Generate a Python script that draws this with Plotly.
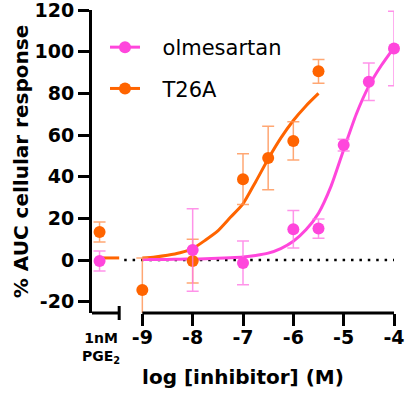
import plotly.graph_objects as go

# ---------------- data ----------------
# control (1 nM PGE2) shown on the left, broken part of the x axis
ctrl_label = "1nM<br>PGE<sub>2</sub>"
ctrl_pos = -9.85

# T26A
t26a_logc = [-9, -8, -7, -6.5, -6, -5.5]
t26a_mean = [-14.4, -0.5, 38.8, 49.0, 57.2, 90.6]
t26a_err = [15.4, 10.5, 12.2, 15.2, 9.2, 5.7]
t26a_ctrl_mean = 13.4
t26a_ctrl_err = 4.8

# olmesartan
olm_logc = [-8, -7, -6, -5.5, -5, -4.5, -4]
olm_mean = [4.8, -1.4, 14.8, 15.1, 55.2, 85.6, 101.6]
olm_err = [19.8, 10.5, 9.0, 4.6, 2.8, 9.0, 17.9]
olm_ctrl_mean = -0.5
olm_ctrl_err = 4.8

# fitted curves
t26a_fit_x = [-9.78, -9.46, None, -9, -8.75, -8.5, -8.25, -8, -7.75, -7.5, -7.25,
              -7, -6.75, -6.5, -6.25, -6, -5.75, -5.5]
t26a_fit_y = [1.0, 1.0, None, 1.0, 1.5, 2.3, 3.5, 5.5, 9.5, 14.0, 20.5,
              27.0, 37.5, 48.5, 58.5, 67.0, 74.0, 80.0]
olm_fit_x = [-9, -8.75, -8.5, -8.25, -8, -7.75, -7.5, -7.25, -7, -6.75, -6.5,
             -6.25, -6, -5.75, -5.5, -5.25, -5, -4.75, -4.5, -4.25, -4]
olm_fit_y = [0.3, 0.3, 0.3, 0.4, 0.5, 0.6, 0.8, 1.1, 1.5, 2.2, 3.3,
             5.5, 9.0, 14.5, 22.5, 35.5, 53.0, 70.0, 83.5, 93.5, 102.0]

x_ticks = [-9, -8, -7, -6, -5, -4]
x_ticktext = ["-9", "-8", "-7", "-6", "-5", "-4"]
y_ticks = [-20, 0, 20, 40, 60, 80, 100, 120]
y_ticktext = ["-20", "0", "20", "40", "60", "80", "100", "120"]

series_names = ["olmesartan", "T26A"]

# ---------------- styling ----------------
PINK = "#FF46DC"
PINK_ERR = "rgba(255,120,228,0.8)"
ORANGE = "#FF6400"
ORANGE_ERR = "rgba(255,145,80,0.8)"
FONT = "DejaVu Sans"

fig = go.Figure()

# fit curves
fig.add_trace(go.Scatter(x=t26a_fit_x, y=t26a_fit_y, mode="lines",
                         line=dict(color=ORANGE, width=3, shape="spline", smoothing=0.6),
                         showlegend=False, hoverinfo="skip", cliponaxis=False))
fig.add_trace(go.Scatter(x=olm_fit_x, y=olm_fit_y, mode="lines",
                         line=dict(color=PINK, width=3, shape="spline", smoothing=0.6),
                         showlegend=False, hoverinfo="skip", cliponaxis=False))

# data points
fig.add_trace(go.Scatter(x=[ctrl_pos] + t26a_logc, y=[t26a_ctrl_mean] + t26a_mean,
                         mode="markers", marker=dict(color=ORANGE, size=12),
                         error_y=dict(type="data", array=[t26a_ctrl_err] + t26a_err,
                                      color=ORANGE_ERR, thickness=1.5, width=6),
                         showlegend=False, cliponaxis=False))
fig.add_trace(go.Scatter(x=[ctrl_pos] + olm_logc, y=[olm_ctrl_mean] + olm_mean,
                         mode="markers", marker=dict(color=PINK, size=12),
                         error_y=dict(type="data", array=[olm_ctrl_err] + olm_err,
                                      color=PINK_ERR, thickness=1.5, width=6),
                         showlegend=False, cliponaxis=False))

# legend entries
for name, col in zip(series_names, [PINK, ORANGE]):
    fig.add_trace(go.Scatter(x=[None], y=[None], mode="lines+markers",
                             name="\u00a0\u00a0\u2009" + name, legendgroup=name,
                             line=dict(color=col, width=3),
                             marker=dict(color=col, size=12)))

shapes = [
    # dotted zero line
    dict(type="line", xref="x", yref="y", x0=-9.36, x1=-4, y0=0, y1=0,
         line=dict(color="black", width=2.5, dash="2.5px,5.9px"), layer="below"),
    # broken x axis: control segment
    dict(type="line", xref="x", yref="paper", x0=-10, x1=-9.46, y0=0, y1=0,
         line=dict(color="black", width=3)),
    dict(type="line", xref="x", yref="paper", x0=-9.46, x1=-9.46,
         y0=-7 / 303, y1=7 / 303, line=dict(color="black", width=3)),
    # broken x axis: dose segment
    dict(type="line", xref="x", yref="paper", x0=-9, x1=-4, y0=0, y1=0,
         line=dict(color="black", width=3)),
]

fig.update_layout(
    width=408, height=395,
    margin=dict(l=92, r=14, t=10, b=82, autoexpand=False),
    paper_bgcolor="white", plot_bgcolor="white",
    font=dict(family=FONT, color="black"),
    shapes=shapes,
    showlegend=True,
    legend=dict(x=(105 - 92) / 302, y=(313 - 27) / 303, xanchor="left", yanchor="top",
                font=dict(family=FONT, size=21, color="black"),
                bgcolor="rgba(0,0,0,0)", borderwidth=0,
                traceorder="grouped", tracegroupgap=11),
    annotations=[dict(text=ctrl_label, x=ctrl_pos + 0.03, xref="x",
                      y=-15 / 303, yref="paper", yanchor="top", xanchor="center",
                      showarrow=False, align="center",
                      font=dict(family=FONT, size=14, weight="bold", color="black"))],
)

fig.update_xaxes(range=[-10, -4], showline=False, showgrid=False, zeroline=False,
                 automargin=False,
                 tickvals=x_ticks, ticktext=x_ticktext, ticks="outside",
                 ticklen=12, tickwidth=3, tickcolor="black", ticklabelstandoff=-5,
                 tickfont=dict(family=FONT, size=19, weight="bold"),
                 title=dict(text="log [inhibitor] (M)", standoff=23,
                            font=dict(family=FONT, size=20, weight="bold")))
fig.update_yaxes(range=[-25.44, 120.05], showline=True, linewidth=3, linecolor="black",
                 showgrid=False, zeroline=False, automargin=False,
                 tickvals=y_ticks, ticktext=y_ticktext, ticks="outside",
                 ticklen=11, tickwidth=3, tickcolor="black",
                 ticklabeloverflow="allow",
                 tickfont=dict(family=FONT, size=19, weight="bold"),
                 title=dict(text="% AUC cellular response", standoff=1,
                            font=dict(family=FONT, size=20, weight="bold")))

fig.write_html("out.html", config={"displayModeBar": False},
               post_script="document.body.style.margin='0';document.body.style.padding='0';")
